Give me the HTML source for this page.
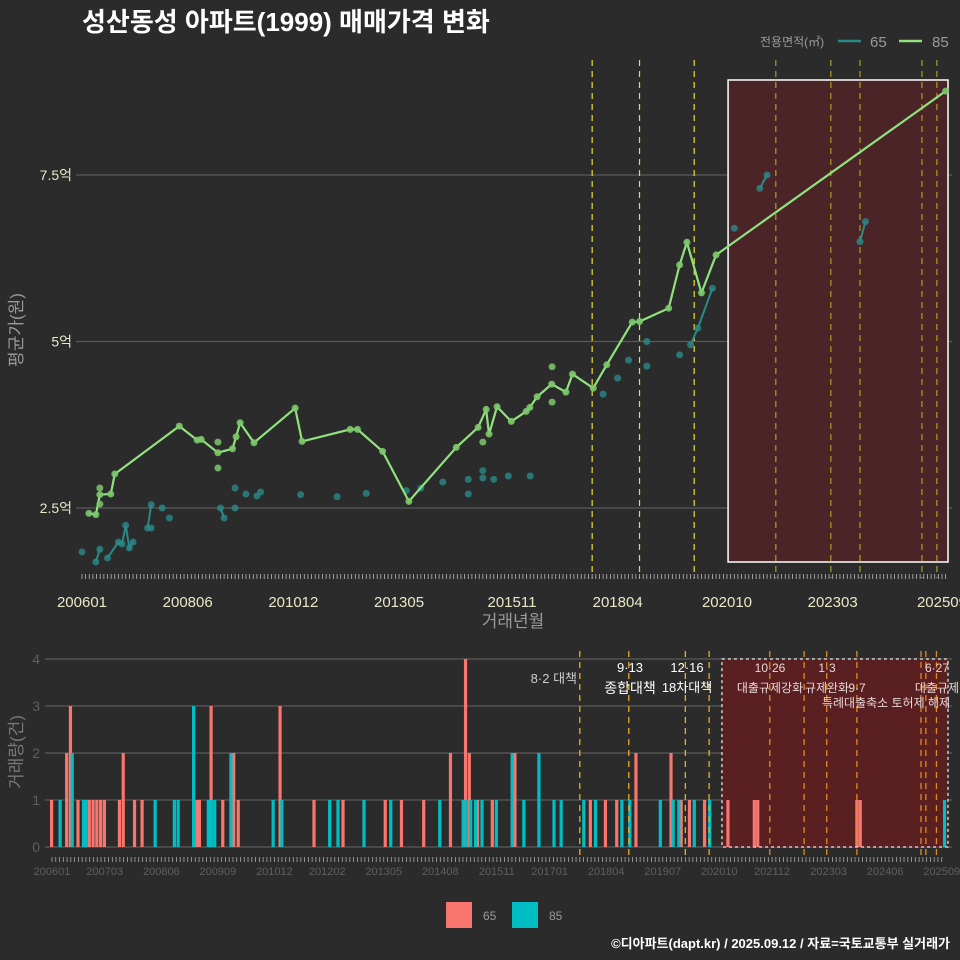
<!DOCTYPE html>
<html><head><meta charset="utf-8">
<style>
html,body{margin:0;padding:0;background:#2b2b2b;}
svg{display:block;font-family:"Liberation Sans","Noto Sans CJK KR",sans-serif;}
</style></head>
<body>
<svg id="chart" width="960" height="960" viewBox="0 0 960 960">
<rect x="0" y="0" width="960" height="960" fill="#2b2b2b"/>
<text x="82" y="31" fill="#ffffff" font-size="26" font-weight="bold">성산동성 아파트(1999) 매매가격 변화</text>
<g>
<text x="760" y="46" fill="#9a9a9a" font-size="12">전용면적(㎡)</text>
<line x1="838" y1="41" x2="861" y2="41" stroke="#2a8a8a" stroke-width="2.5"/>
<text x="870" y="47" fill="#9a9a9a" font-size="15">65</text>
<line x1="899" y1="41" x2="922" y2="41" stroke="#90e27e" stroke-width="2.5"/>
<text x="932" y="47" fill="#9a9a9a" font-size="15">85</text>
</g>
<g id="topPanel"></g>
<g id="botPanel"></g>
<g>
<rect x="446" y="902" width="26" height="26" fill="#f8766d"/>
<text x="483" y="920" fill="#9a9a9a" font-size="12">65</text>
<rect x="512" y="902" width="26" height="26" fill="#00bfc4"/>
<text x="549" y="920" fill="#9a9a9a" font-size="12">85</text>
</g>
<text x="950" y="948" text-anchor="end" fill="#ffffff" font-size="13" font-weight="bold">©디아파트(dapt.kr) / 2025.09.12 / 자료=국토교통부 실거래가</text>
</svg>
<script>
// months since 2006-01
const line85Months=[1.9,3.8,4.9,7.9,9.0,26.7,31.6,32.7,37.3,41.3,42.3,43.4,47.2,58.5,60.4,73.6,75.6,82.5,89.7,102.7,108.7,110.9,111.7,113.9,117.8,121.9,122.9,124.9,128.9,132.8,134.6,140.3,144,151,153,161,164,166,170,174,237];
const line85Values=[2.42,2.40,2.70,2.71,3.01,3.73,3.52,3.53,3.33,3.39,3.57,3.78,3.48,4.00,3.50,3.68,3.68,3.35,2.60,3.41,3.71,3.98,3.61,4.02,3.80,3.95,4.01,4.17,4.36,4.24,4.51,4.30,4.65,5.29,5.30,5.50,6.15,6.49,5.73,6.30,8.76];
const extra85Months=[4.9,4.9,37.3,37.3,110,129,129];
const extra85Values=[2.56,2.80,3.49,3.10,3.49,4.09,4.62];
const pts65Months=[0,3.8,4.9,7,10,11,12,13,14,18,19,19,22,24,38,39,42,42,45,48,49,60,70,78,89,93,99,106,106,110,110,113,117,123,143,147,150,155,155,164,167,169,173,179,186,188,213.5,215];
const pts65Values=[1.84,1.69,1.88,1.75,1.99,1.96,2.24,1.90,1.99,2.20,2.20,2.55,2.50,2.35,2.50,2.35,2.50,2.80,2.71,2.68,2.74,2.70,2.67,2.72,2.76,2.80,2.89,2.93,2.71,3.06,2.95,2.93,2.98,2.98,4.21,4.45,4.72,5.0,4.63,4.8,4.95,5.2,5.8,6.7,7.3,7.5,6.5,6.8];
const line65Groups=[[1,2],[3,4,5,6,7,8],[9,11],[14,15],[40,41,42],[44,45],[46,47]];
const yTickValues=[2.5,5,7.5];
const yTickLabels=["2.5억","5억","7.5억"];
const topXTickMonths=[0,29,58,87,118,147,177,206,236];
const topXTickLabels=["200601","200806","201012","201305","201511","201804","202010","202303","202509"];
const botXTickMonths=[0,14,29,44,59,73,88,103,118,132,147,162,177,191,206,221,236];
const botXTickLabels=["200601","200703","200806","200909","201012","201202","201305","201408","201511","201701","201804","201907","202010","202112","202303","202406","202509"];
const topPolicyMonths=[140,153,168,190.4,205.5,213.5,230.5,234.6];
const botPolicyMonths=[140,153,168,174.3,190.4,199.5,205.5,213.5,230.5,231.8,234.6];
const bars65Months=[0,4,5,7,10,11,12,13,14,18,19,22,24,38.5,39.2,42.3,45.4,48.3,49.5,60.6,69.6,77.3,88.5,92.8,98.7,105.8,109.8,110.8,113,116.9,122.9,142.9,146.9,149.9,155,164.3,167,169.2,173.2,179.4,186.4,187.3,213.6,214.5];
const bars65Counts=[1,2,3,1,1,1,1,1,1,1,2,1,1,1,1,3,1,2,1,3,1,1,1,1,1,2,4,2,1,1,2,1,1,1,2,2,1,1,1,1,1,1,1,1];
const bars85Months=[2,5.2,8.2,8.9,27.2,32.3,33.3,37.4,41.3,42.1,43.0,47.3,58.5,60.8,73.5,75.7,82.6,89.7,102.7,108.9,109.8,110.9,112.2,113.9,117.7,121.9,125,129,133,134.9,140.9,144,151,153.1,161.2,164.6,166.1,170.2,174.3,236.6];
const bars85Counts=[1,2,1,1,1,1,1,3,1,1,1,2,1,1,1,1,1,1,1,1,1,1,1,1,1,2,1,2,1,1,1,1,1,1,1,1,1,1,1,1];
const yBarTicks=[0,1,2,3,4];

const NS="http://www.w3.org/2000/svg";
function mk(parent,tag,attrs){const e=document.createElementNS(NS,tag);for(const k in attrs)e.setAttribute(k,attrs[k]);parent.appendChild(e);return e;}
const topG=document.getElementById('topPanel'), botG=document.getElementById('botPanel');
const xT=m=>82+3.644*m, yT=v=>508-(v-2.5)*66.6;
const xB=m=>52+3.77*m, yB=c=>847-47*c;

yTickValues.forEach((v,i)=>{
  const g=mk(topG,'line',{x1:76,x2:952,y1:yT(v),y2:yT(v),stroke:'#5a5a5a','stroke-width':1.2});
  
  
  const t=mk(topG,'text',{x:72,y:yT(v)+5,'text-anchor':'end',fill:'#e8e8c8','font-size':14});
  t.textContent=yTickLabels[i];
  
  
});
const box=mk(topG,'rect',{x:xT(177.3),y:80,width:948-xT(177.3),height:482,fill:'#4a2427',stroke:'#ffffff','stroke-width':1.5});


topPolicyMonths.forEach((m,i)=>{
  const l=mk(topG,'line',{x1:xT(m),x2:xT(m),y1:60,y2:578,stroke:i<3?'#e8e030':'#a8a020','stroke-width':1.2,'stroke-dasharray':'6 5'});
  
  
});
for(let m=0;m<=237;m++){
  const l=mk(topG,'line',{x1:xT(m),x2:xT(m),y1:574,y2:579,stroke:'#bbbbbb','stroke-width':0.8});
  
  
}
topXTickMonths.forEach((m,i)=>{
  const t=mk(topG,'text',{x:xT(m),y:607,'text-anchor':'middle',fill:'#e8e8c8','font-size':15});
  t.textContent=topXTickLabels[i];
  
  
});
const xt=mk(topG,'text',{x:513,y:627,'text-anchor':'middle',fill:'#9a9a9a','font-size':17});
xt.textContent='거래년월';


const yt=mk(topG,'text',{x:22,y:330,'text-anchor':'middle',fill:'#9a9a9a','font-size':17,transform:'rotate(-90 22 330)'});
yt.textContent='평균가(원)';


line65Groups.forEach(g=>{
  const p=mk(topG,'polyline',{points:g.map(i=>xT(pts65Months[i])+','+yT(pts65Values[i])).join(' '),fill:'none',stroke:'#2a8a8a','stroke-width':2});
  
  
});
pts65Months.forEach((m,i)=>{
  const c=mk(topG,'circle',{cx:xT(m),cy:yT(pts65Values[i]),r:3.5,fill:'#2a8a8a','fill-opacity':0.8});
  
  
});
const pl=mk(topG,'polyline',{points:line85Months.map((m,i)=>xT(m)+','+yT(line85Values[i])).join(' '),fill:'none',stroke:'#90e27e','stroke-width':2.2});


line85Months.forEach((m,i)=>{
  const c=mk(topG,'circle',{cx:xT(m),cy:yT(line85Values[i]),r:3.5,fill:'#7cc86a','fill-opacity':0.9});
  
  
});
extra85Months.forEach((m,i)=>{
  const c=mk(topG,'circle',{cx:xT(m),cy:yT(extra85Values[i]),r:3.5,fill:'#7cc86a','fill-opacity':0.85});
  
  
});

yBarTicks.forEach(c=>{
  const g=mk(botG,'line',{x1:45,x2:952,y1:yB(c),y2:yB(c),stroke:'#5a5a5a','stroke-width':1.2});
  
  
  const t=mk(botG,'text',{x:40,y:yB(c)+5,'text-anchor':'end',fill:'#5f5f5f','font-size':14});
  t.textContent=String(c);
  
  
});
const bx=mk(botG,'rect',{x:xB(177.7),y:659,width:948-xB(177.7),height:188,fill:'#5a1f21'});


bars65Months.forEach((m,i)=>{
  const r=mk(botG,'rect',{x:xB(m)-2,y:yB(bars65Counts[i]),width:3.2,height:47*bars65Counts[i],fill:'#f8766d'});
  
  
});
bars85Months.forEach((m,i)=>{
  const r=mk(botG,'rect',{x:xB(m)-1,y:yB(bars85Counts[i]),width:3.2,height:47*bars85Counts[i],fill:'#00bfc4'});
  
  
});
const bx2=mk(botG,'rect',{x:xB(177.7),y:659,width:948-xB(177.7),height:188,fill:'none',stroke:'#cccccc','stroke-width':1.5,'stroke-dasharray':'3 3'});


botPolicyMonths.forEach((m,i)=>{
  const l=mk(botG,'line',{x1:xB(m),x2:xB(m),y1:651,y2:857,stroke:i<4?'#e8b020':'#e08a20','stroke-width':1.3,'stroke-dasharray':'6 5'});
  
  
});
for(let m=0;m<=236;m++){
  const l=mk(botG,'line',{x1:xB(m),x2:xB(m),y1:857,y2:862,stroke:'#aaaaaa','stroke-width':0.8});
  
  
}
botXTickMonths.forEach((m,i)=>{
  const t=mk(botG,'text',{x:xB(m),y:875,'text-anchor':'middle',fill:'#5f5f5f','font-size':11});
  t.textContent=botXTickLabels[i];
  
  
});
const byt=mk(botG,'text',{x:22,y:752,'text-anchor':'middle',fill:'#7a7a7a','font-size':17,transform:'rotate(-90 22 752)'});
byt.textContent='거래량(건)';


const notes=[[577,683,'end','8·2 대책','#cccccc',13],[630,672,'middle','9·13','#ffffff',13],[630,693,'middle','종합대책','#ffffff',14],[687,672,'middle','12·16','#ffffff',13],[687,692,'middle','18차대책','#ffffff',13],[770,672,'middle','10·26','#e8d8d8',12],[770,692,'middle','대출규제강화','#e8d8d8',12],[827,672,'middle','1·3','#e8d8d8',12],[827,692,'middle','규제완화','#e8d8d8',12],[857,692,'middle','9·7','#e8d8d8',12],[886,707,'middle','특례대출축소 토허제 해제','#e8d8d8',12],[937,672,'middle','6·27','#e8d8d8',12],[937,692,'middle','대출규제','#e8d8d8',12]];
notes.forEach(n=>{
  const t=mk(botG,'text',{x:n[0],y:n[1],'text-anchor':n[2],fill:n[4],'font-size':n[5]});
  t.textContent=n[3];
  
  
});
</script>
</body></html>
